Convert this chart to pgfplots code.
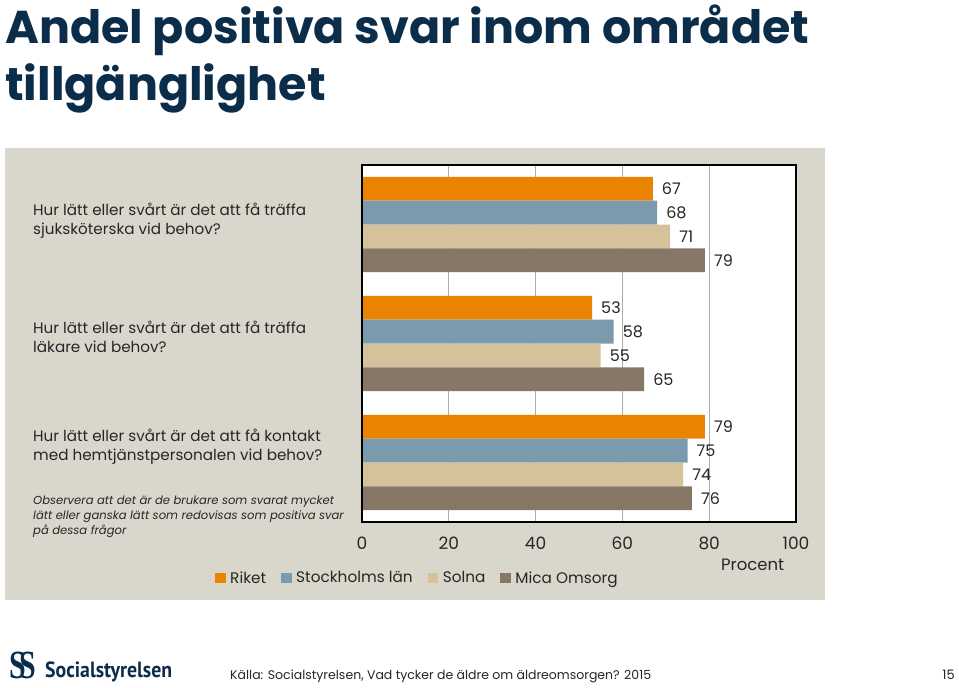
\documentclass[border=0pt]{standalone}
\usepackage{fontspec}
\usepackage{graphicx}
\usepackage{pgfplots}
\usepackage{pgfplotstable}
\pgfplotsset{compat=1.18}
\setmainfont{Poppins}
\newfontfamily\logofont{PT Sans}
\newfontfamily\symfont{Liberation Serif}

\definecolor{riket}{HTML}{E98300}
\definecolor{sthlm}{HTML}{7C9AAE}
\definecolor{solna}{HTML}{D6C29A}
\definecolor{mica}{HTML}{877767}
\definecolor{panel}{HTML}{D9D7CC}
\definecolor{navy}{HTML}{0B2D4A}
\definecolor{txt}{HTML}{262626}

% g = group position (2 = top question)
\pgfplotstableread{
g riket sthlm solna mica
2 67 68 71 79
1 53 58 55 65
0 79 75 74 76
}\andel

\begin{document}
\begin{tikzpicture}
% slide and grey chart area (1px = 1pt)
\fill[white] (0pt,0pt) rectangle (959pt,-688pt);
\fill[panel] (5pt,-148pt) rectangle (825pt,-600pt);

\node[anchor=base west, inner sep=0pt, text=navy, font=\bfseries\fontsize{46}{52}\selectfont]
  at (5pt,-43pt) {Andel positiva svar inom området};
\node[anchor=base west, inner sep=0pt, text=navy, font=\bfseries\fontsize{46}{52}\selectfont]
  at (5pt,-100pt) {tillgänglighet};

\begin{axis}[
  at={(362pt,-522pt)}, anchor=south west,
  scale only axis, width=434pt, height=357pt,
  xbar, bar width=0.2, bar shift=0pt,
  xmin=0, xmax=100, ymin=-0.5, ymax=2.5,
  xtick={0,20,40,60,80,100},
  ytick={0.130,1.059,2.034},
  yticklabels={
    {Hur lätt eller svårt är det att få kontakt\\med hemtjänstpersonalen vid behov?},
    {Hur lätt eller svårt är det att få träffa\\läkare vid behov?},
    {Hur lätt eller svårt är det att få träffa\\sjuksköterska vid behov?}},
  /pgf/number format/assume math mode=true,
  major tick length=0pt,
  xmajorgrids, grid style={draw=gray!65, line width=0.8pt},
  axis line style={line width=2.5pt, black},
  axis background/.style={fill=white},
  xticklabel style={font=\fontsize{17}{20}\selectfont, text=txt, inner sep=0pt, yshift=-14.5pt},
  yticklabel style={anchor=west, inner sep=0pt, xshift=-329pt, align=left,
    font=\fontsize{15.2}{19}\selectfont, text=txt},
  xlabel={Procent},
  xlabel style={at={(rel axis cs:0.9,0)}, anchor=north, inner sep=0pt, yshift=-37pt,
    font=\fontsize{16.5}{20}\selectfont, text=txt},
  point meta=x,
  nodes near coords,
  every node near coord/.append style={anchor=west, inner sep=0pt, xshift=9pt,
    font=\fontsize{16}{19}\selectfont, text=txt},
  clip=false,
  legend columns=4,
  legend image code/.code={\draw[#1,draw=none] (0pt,-5pt) rectangle (10.5pt,5.5pt);},
  legend style={at={(axis description cs:-0.3387,-0.1569)}, anchor=west,
    draw=none, fill=none, inner sep=0pt, nodes={inner sep=0pt},
    font=\fontsize{15.3}{19}\selectfont, text=txt,
    /tikz/every odd column/.append style={column sep=4.5pt},
    /tikz/every even column/.append style={column sep=15pt}},
]
\addplot[fill=riket, draw=none] table[x=riket, y expr=\thisrow{g}+0.3] {\andel};
\addplot[fill=sthlm, draw=none] table[x=sthlm, y expr=\thisrow{g}+0.1] {\andel};
\addplot[fill=solna, draw=none] table[x=solna, y expr=\thisrow{g}-0.1] {\andel};
\addplot[fill=mica,  draw=none] table[x=mica,  y expr=\thisrow{g}-0.3] {\andel};
\legend{Riket, Stockholms län, Solna, Mica Omsorg}
\draw[line width=2.5pt, black] (rel axis cs:0,0) rectangle (rel axis cs:1,1);
\end{axis}

\node[anchor=north west, inner sep=0pt, align=left, text=txt,
  font=\itshape\fontsize{11.6}{15}\selectfont] at (33pt,-496pt)
  {Observera att det är de brukare som svarat mycket\\lätt eller ganska lätt som redovisas som positiva svar\\på dessa frågor};

% footer
\node[anchor=base west, inner sep=0pt, text=navy,
  font=\symfont\bfseries\fontsize{40}{40}\selectfont] at (9pt,-678pt)
  {\scalebox{0.75}[1]{S\kern-9pt S}};
\node[anchor=base west, inner sep=0pt, text=navy] at (45pt,-677pt)
  {\scalebox{0.9}[1]{\logofont\bfseries\fontsize{22}{24}\selectfont Socialstyrelsen}};
\node[anchor=base west, inner sep=0pt, text=txt, font=\fontsize{12.5}{16}\selectfont]
  at (230pt,-679pt) {Källa: Socialstyrelsen, Vad tycker de äldre om äldreomsorgen? 2015};
\node[anchor=base east, inner sep=0pt, text=txt, font=\fontsize{13}{16}\selectfont]
  at (955pt,-679pt) {15};
\end{tikzpicture}
\end{document}
